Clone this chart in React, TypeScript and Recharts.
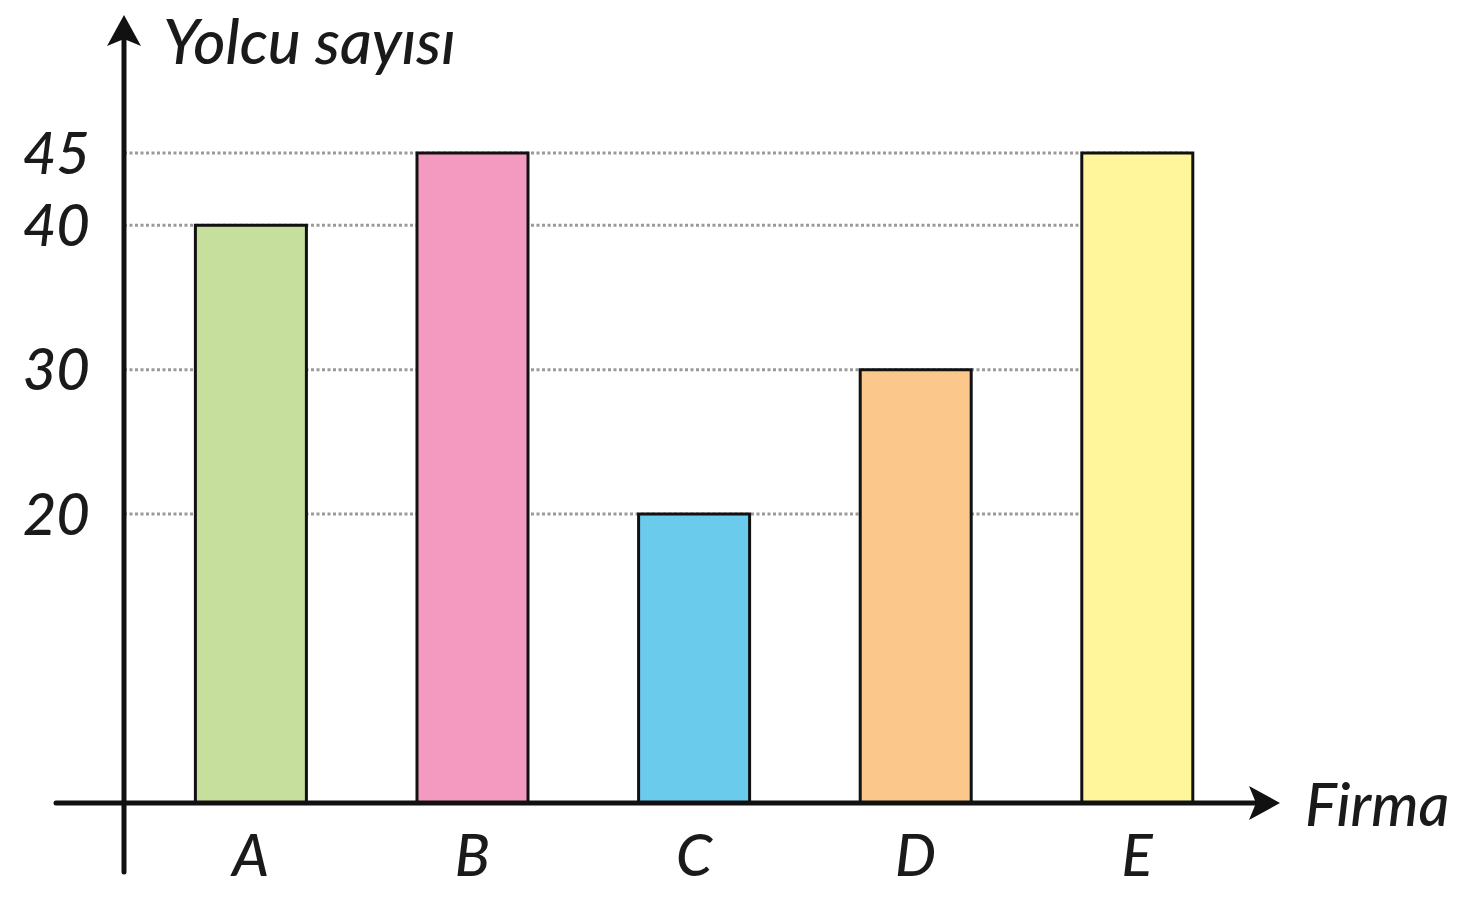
import { BarChart, Bar, XAxis, YAxis, CartesianGrid, Cell } from "recharts"

const firms = ["A", "B", "C", "D", "E"]
const passengers = [40, 45, 20, 30, 45]
const barColors = ["#c6df9c", "#f49ac1", "#6bcbed", "#fbc78b", "#fff59b"]
const yTicks = [20, 30, 40, 45]

const data = firms.map((firm, i) => ({ firm, value: passengers[i] }))

const FONT = "Lato, 'Noto Sans', sans-serif"

// dotted grid, stops just past the last bar like the drawing
const gridLine = (props: any) => (
  <line
    key={props.key ?? props.index}
    x1={props.x1}
    y1={props.y1}
    x2={props.x2 - 58}
    y2={props.y2}
    stroke="#9a9a9a"
    strokeWidth={3}
    strokeDasharray="3 2.5"
  />
)

export default function App() {
  return (
    <div style={{ position: "absolute", left: 0, top: 0, width: 1472, height: 897, background: "#fff" }}>
      <BarChart
        width={1472}
        height={897}
        data={data}
        margin={{ top: 153, right: 224, bottom: 14, left: 24 }}
        barCategoryGap="25%"
      >
        <CartesianGrid vertical={false} horizontal={gridLine} />
        <XAxis
          dataKey="firm"
          height={80}
          axisLine={false}
          tickLine={false}
          tickSize={0}
          tickMargin={32}
          padding={{ left: 16, right: 0 }}
          tick={{ fontSize: 58, fill: "#1a1a1a", fontStyle: "italic", fontWeight: 500, fontFamily: FONT }}
        />
        <YAxis
          width={100}
          domain={[0, 45]}
          ticks={yTicks}
          axisLine={false}
          tickLine={false}
          tickSize={0}
          tickMargin={34}
          tick={{ fontSize: 58, fill: "#1a1a1a", fontStyle: "italic", fontWeight: 500, fontFamily: FONT }}
        />
        <Bar dataKey="value" stroke="#111" strokeWidth={3} isAnimationActive={false}>
          {data.map((d, i) => (
            <Cell key={d.firm} fill={barColors[i]} />
          ))}
        </Bar>
      </BarChart>

      <svg
        width={1472}
        height={897}
        style={{ position: "absolute", left: 0, top: 0, pointerEvents: "none" }}
      >
        {/* y axis with arrow */}
        <line x1={124} y1={872} x2={124} y2={36} stroke="#111" strokeWidth={5} strokeLinecap="round" />
        <path d="M124 15 L141 46 L124 39 L107 46 Z" fill="#111" />
        {/* x axis with arrow */}
        <line x1={56} y1={803} x2={1262} y2={803} stroke="#111" strokeWidth={5} strokeLinecap="round" />
        <path d="M1280 803 L1249 786 L1256 803 L1249 820 Z" fill="#111" />
        <text x={163} y={64} fontSize={62} fontStyle="italic" fontWeight={500} fontFamily={FONT} fill="#1a1a1a">
          Yolcu sayısı
        </text>
        <text x={1305} y={826} fontSize={60} fontStyle="italic" fontWeight={500} fontFamily={FONT} fill="#1a1a1a">
          Firma
        </text>
      </svg>
    </div>
  )
}
